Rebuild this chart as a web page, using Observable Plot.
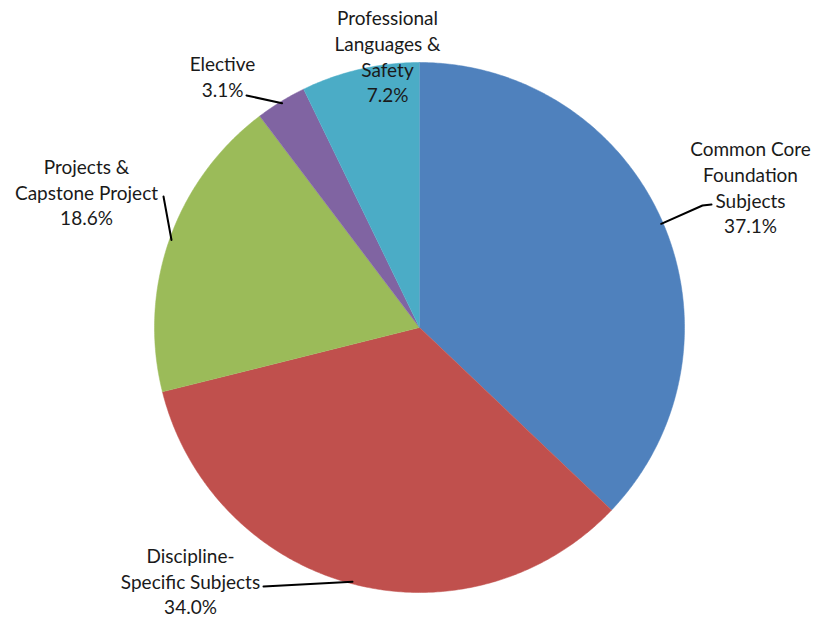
<!DOCTYPE html>
<html>
<head>
<meta charset="utf-8">
<script src="https://cdn.jsdelivr.net/npm/d3@7"></script>
<script src="https://cdn.jsdelivr.net/npm/@observablehq/plot@0.6"></script>
<style>
  html, body { margin: 0; padding: 0; background: #ffffff; }
</style>
</head>
<body>
<div id="chart"></div>
<script>
// ---- data ----
const categories = [
  "Common Core Foundation Subjects",
  "Discipline-Specific Subjects",
  "Projects & Capstone Project",
  "Elective",
  "Professional Languages & Safety"
];
const shares = [37.1, 34.0, 18.6, 3.1, 7.2];
const labelTexts = [
  "Common Core\nFoundation\nSubjects\n37.1%",
  "Discipline-\nSpecific Subjects\n34.0%",
  "Projects &\nCapstone Project\n18.6%",
  "Elective\n3.1%",
  "Professional\nLanguages &\nSafety\n7.2%"
];
const colors = ["#4F81BD", "#C0504D", "#9BBB59", "#8064A2", "#4BACC6"];

// ---- layout (pixel space, separate from data) ----
const W = 816, H = 617;
const cx = 419, cy = 327, R = 265;
const labelPos = [
  {x: 750, y: 186},
  {x: 190, y: 580},
  {x: 86,  y: 191},
  {x: 222, y: 75},
  {x: 387, y: 55}
];
// leader line starting points (null = no leader); knee optional
const leaderFrom = [
  [[711, 204], [702, 205]],
  [[263, 586]],
  [[163, 196]],
  [[246, 95]],
  null
];

// ---- build slices ----
const total = d3.sum(shares);
let acc = 0;
const slices = categories.map((name, i) => {
  const a0 = acc / total * 2 * Math.PI;
  acc += shares[i];
  const a1 = acc / total * 2 * Math.PI;
  return {name, a0, a1, mid: (a0 + a1) / 2, i};
});
const pt = (a, r) => [cx + r * Math.sin(a), cy - r * Math.cos(a)];

const slicePts = [];
for (const s of slices) {
  slicePts.push({name: s.name, x: cx, y: cy});
  const n = Math.max(8, Math.ceil((s.a1 - s.a0) / (Math.PI / 360)));
  for (let k = 0; k <= n; k++) {
    const a = s.a0 + (s.a1 - s.a0) * k / n;
    const [x, y] = pt(a, R);
    slicePts.push({name: s.name, x, y});
  }
}

const leaderPts = [];
slices.forEach((s, i) => {
  if (!leaderFrom[i]) return;
  leaderFrom[i].forEach(([x, y]) => leaderPts.push({name: s.name, x, y}));
  const [ex, ey] = pt(s.mid, R - 2);
  leaderPts.push({name: s.name, x: ex, y: ey});
});

const labels = slices.map((s, i) => ({name: s.name, text: labelTexts[i], x: labelPos[i].x, y: labelPos[i].y}));

const chart = Plot.plot({
  width: W,
  height: H,
  margin: 0,
  x: {domain: [0, W], range: [0, W], axis: null},
  y: {domain: [0, H], range: [0, H], axis: null},
  color: {domain: categories, range: colors},
  style: {fontFamily: "Lato, 'DejaVu Sans', sans-serif", fontSize: "19px", background: "#ffffff", overflow: "visible"},
  marks: [
    Plot.line(slicePts, {x: "x", y: "y", z: "name", fill: "name", stroke: "name", strokeWidth: 0.5, curve: "linear"}),
    Plot.line(leaderPts, {x: "x", y: "y", z: "name", stroke: "#000000", strokeWidth: 2}),
    Plot.text(labels, {x: "x", y: "y", text: "text", textAnchor: "middle", lineAnchor: "middle", lineHeight: 1.35, fill: "#1a1a1a", fontSize: 19})
  ]
});
document.getElementById("chart").appendChild(chart);
</script>
</body>
</html>
